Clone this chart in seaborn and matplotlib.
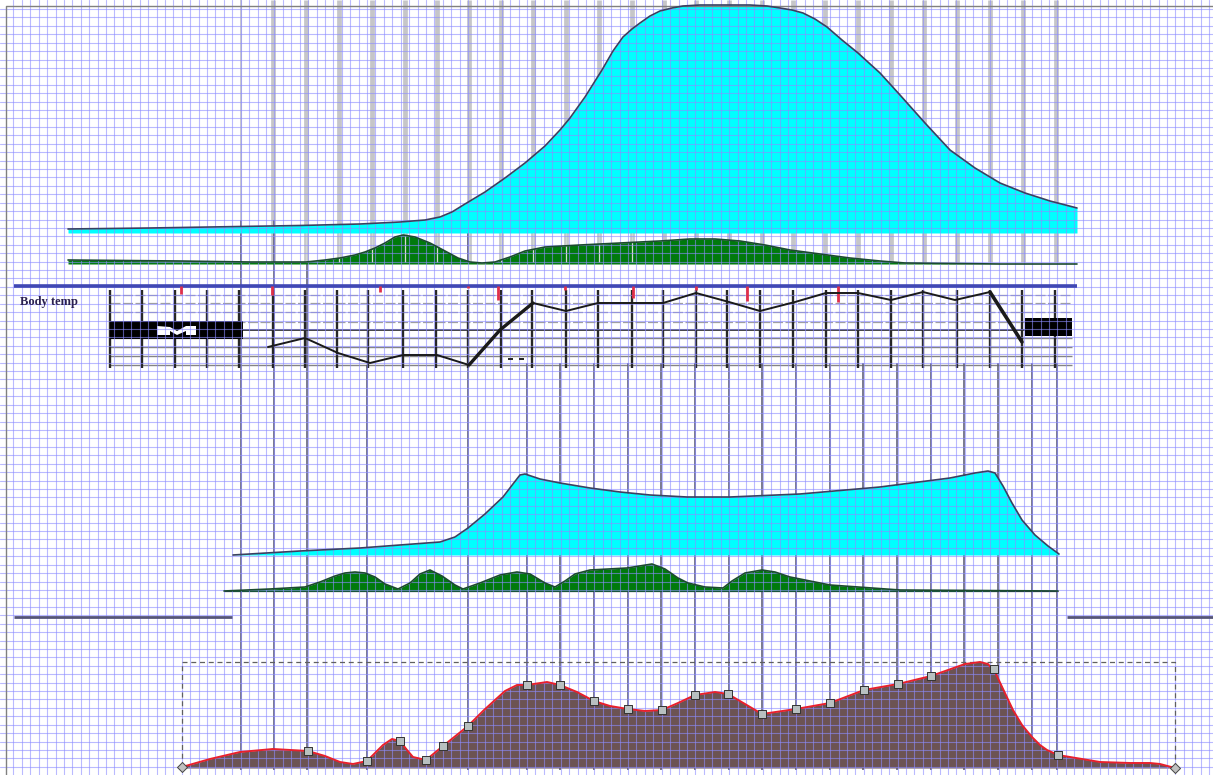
#!/usr/bin/env python

# Stacked traces (cyan / green areas, body temp strip, brown summary) on graph paper

import numpy as np
from matplotlib import pyplot as plt
import seaborn as sns

# Upper cyan area
top_cyan_x = [68, 150, 240, 300, 360, 400, 425, 440, 452, 465, 485, 505, 525, 545, 560, 570, 585, 602, 613, 623, 632, 640, 650, 660, 672, 683, 700, 725, 750, 767, 780, 792, 803, 815, 827, 842, 858, 880, 900, 925, 950, 975, 1000, 1025, 1050, 1077]
top_cyan_y = [229, 228, 226.5, 225.5, 224, 222, 220, 217, 212, 204, 192, 178, 163, 146, 130, 118, 97, 70, 51, 37, 29, 23, 16, 11, 8, 6, 5, 5, 5, 6, 8, 10, 13, 19, 27, 40, 53, 73, 95, 123, 150, 168, 183, 193, 201, 208]
top_cyan_base = 233

# Upper green area
top_green_x = [68, 180, 250, 306, 325, 340, 355, 365, 375, 385, 395, 403, 415, 430, 445, 458, 470, 482, 495, 510, 525, 545, 580, 620, 660, 690, 715, 740, 765, 790, 820, 850, 880, 905, 1000, 1077]
top_green_y = [260, 261, 262, 262, 260, 258, 255, 252, 248, 243, 237, 235, 237, 243, 251, 258, 262, 263, 262, 257, 251, 247, 245, 243, 241, 239, 239, 241, 245, 250, 254, 258, 261, 263, 264, 264]
top_green_base = 264

# Body temp strip
temp_x = [268, 305, 338, 370, 403, 437, 469, 500, 533, 566, 598, 632, 663, 696, 729, 760, 795, 826, 858, 891, 923, 955, 990, 1022]
temp_y = [347, 338, 353, 363, 355, 355, 365, 330, 303, 311, 303, 303, 303, 293, 302, 311, 302, 293, 293, 300, 292, 300, 292, 342]
temp_label = 'Body temp'
strip_ticks = [110, 142, 175, 207, 239, 273, 305, 337, 368, 403, 436, 468, 501, 532, 566, 598, 632, 663, 696, 727, 760, 793, 826, 858, 891, 923, 957, 990, 1022, 1055]
faint_rows = [295, 303, 312, 322]
strip_rows = [338, 347, 356, 365]
red_x = [181, 272, 380, 468, 498, 565, 633, 696, 747, 838]
red_y = [294, 295, 292, 288, 300, 290, 298, 290, 301, 302]

# Lower cyan area
low_cyan_x = [233, 300, 360, 400, 440, 455, 468, 485, 503, 513, 520, 525, 540, 560, 590, 620, 650, 687, 730, 800, 880, 950, 975, 988, 995, 1003, 1012, 1022, 1035, 1048, 1059]
low_cyan_y = [555, 551, 548, 545, 542, 537, 528, 514, 497, 484, 475, 474, 479, 483, 488, 492, 495, 497, 497, 494, 487, 478, 473, 471, 473, 486, 503, 520, 535, 546, 554]
low_cyan_base = 555

# Lower green area
low_green_x = [224, 270, 305, 320, 335, 345, 355, 365, 375, 385, 398, 410, 420, 430, 442, 455, 463, 480, 500, 517, 530, 545, 555, 565, 575, 590, 627, 652, 665, 678, 688, 705, 723, 732, 745, 762, 775, 790, 830, 900, 1058]
low_green_y = [591, 589, 587, 582, 576, 573, 572, 573, 577, 584, 589, 583, 574, 570, 576, 585, 589, 583, 575, 572, 574, 583, 587, 581, 574, 570, 568, 564, 569, 578, 583, 587, 588, 581, 573, 570, 572, 577, 585, 590, 591]
low_green_base = 591

# Brown summary area and its handles
brown_x = [182, 210, 240, 273, 308, 325, 340, 353, 367, 375, 383, 392, 400, 407, 413, 426, 443, 468, 483, 495, 505, 517, 527, 547, 560, 577, 594, 610, 628, 645, 662, 678, 695, 715, 728, 745, 762, 796, 830, 864, 898, 931, 965, 980, 988, 995, 1004, 1013, 1022, 1032, 1040, 1047, 1058, 1100, 1130, 1150, 1160, 1175]
brown_y = [767, 759, 752, 749, 751, 756, 762, 764, 761, 753, 745, 739, 741, 750, 757, 760, 746, 726, 711, 700, 691, 685, 685, 682, 685, 692, 701, 706, 709, 711, 710, 703, 695, 692, 694, 704, 714, 709, 703, 690, 684, 676, 664, 662, 664, 672, 691, 710, 725, 737, 745, 750, 755, 762, 763, 763, 764, 768]
brown_base = 768
handle_x = [308, 367, 400, 426, 443, 468, 527, 560, 594, 628, 662, 695, 728, 762, 796, 830, 864, 898, 931, 994, 1058]
handle_y = [751, 761, 741, 760, 746, 726, 685, 685, 701, 709, 710, 695, 694, 714, 709, 703, 690, 684, 676, 669, 755]
end_x = [182, 1175]
end_y = [767, 768]

# Vertical guide positions
grey_bars = [273, 306, 339, 372, 405, 437, 469, 501, 533, 566, 599, 632, 664, 696, 729, 762, 793, 825, 858, 891, 924, 957, 990, 1023, 1056]
long_guides = [241, 274, 307, 367, 468]
short_guides = [527, 560, 594, 628, 661, 695, 729, 762, 796, 830, 863, 897, 931, 964, 998, 1032, 1057]

# Colours
CYAN = '#00ffff'
GREEN = '#007a0c'
BROWN = '#6c5353'
GUIDE = '#62627c'
OUTLINE = '#3b4060'
BLUE = '#4048b4'

sns.set_theme(style='white')
plt.rcParams['font.family'] = ['Liberation Serif', 'DejaVu Serif']

fig = plt.figure(figsize=(12.13, 7.75), dpi=100)
ax = fig.add_axes([0, 0, 1, 1])
ax.set_xlim(0, 1213)
ax.set_ylim(775, 0)

# Graph paper drawn over the fills
ax.set_xticks(np.arange(13.4, 1213, 8.42))
ax.set_yticks(np.arange(9.0, 775, 8.42))
ax.tick_params(length=0, labelbottom=False, labelleft=False)
ax.grid(True, color='#8c8cff', lw=0.8, alpha=0.6)
ax.set_axisbelow(False)
sns.despine(ax=ax, left=True, bottom=True, top=True, right=True)

# Page frame
ax.plot([6, 6, 1213], [775, 5.5, 5.5], color='#808080', lw=1, zorder=3)


def area(x, y, base, fill, edge, lw=1.2):
    ax.fill_between(x, y, base, color=fill, lw=0, zorder=1.5)
    sns.lineplot(x=x, y=y, color=edge, lw=lw, sort=False, estimator=None, ax=ax, zorder=3)


# Guides sit under the areas
ax.vlines(grey_bars, 0, 262, color='#c6c6c8', lw=3.4, zorder=1)
ax.vlines(241, 0, 220, color='#c8c8d0', lw=1.4, zorder=1)
ax.vlines(long_guides[:2], 220, 770, color=GUIDE, lw=1.2, zorder=1.2)
ax.vlines(long_guides[2], 263, 770, color=GUIDE, lw=1.2, zorder=1.2)
ax.vlines(long_guides[3:], 365, 770, color=GUIDE, lw=1.2, zorder=1.2)
ax.vlines(468, 233, 262, color=GUIDE, lw=1.2, zorder=1.2)
ax.vlines(short_guides, 363, 770, color=GUIDE, lw=1.2, zorder=1.2)

area(top_cyan_x, top_cyan_y, top_cyan_base, CYAN, OUTLINE)
area(top_green_x, top_green_y, top_green_base, GREEN, '#1c4a30')
ax.vlines(grey_bars[1:12], 233, 262, color='#d4d8d4', lw=0.9, zorder=2)

# Body temp strip
ax.text(20, 302, temp_label, fontsize=9, fontweight='bold', color='#2a2050', va='center', zorder=4)
ax.hlines(285.5, 14, 1077, color=BLUE, lw=2.6, zorder=3)
ax.hlines(faint_rows, 110, 1072, color='#777777', lw=0.9, ls=(0, (8, 2)), zorder=1.8, alpha=0.7)
ax.hlines(strip_rows, 110, 1072, color='#666666', lw=1, zorder=1.8, alpha=0.8)
ax.hlines(330, 243, 1025, color='#333333', lw=1.3, zorder=1.8)
ax.vlines(strip_ticks, 290, 368, color='#262626', lw=1.7, zorder=1.9)
ax.vlines(red_x, 286, red_y, color='#e0304a', lw=2, zorder=3)
ax.fill_between([110, 243], 321, 339, color='black', lw=0, zorder=2.2)
ax.fill_between([1025, 1072], 318, 336, color='black', lw=0, zorder=2.2)
# white smudge left in the blacked out part of the scan
ax.fill([157, 170, 177, 186, 196, 196, 186, 186, 177, 170, 170, 157],
        [326, 327, 331, 326, 326, 335, 335, 331, 335, 331, 335, 335], color='white', lw=0, zorder=2.3)
sns.lineplot(x=temp_x, y=temp_y, color='#1a1a1a', lw=1.4, sort=False, estimator=None, ax=ax, zorder=3)
sns.lineplot(x=temp_x[6:9], y=temp_y[6:9], color='#1a1a1a', lw=2.4, sort=False, estimator=None, ax=ax, zorder=3)
sns.lineplot(x=temp_x[-2:], y=temp_y[-2:], color='#1a1a1a', lw=2.6, sort=False, estimator=None, ax=ax, zorder=3)
ax.hlines([359, 359], [508, 519], [513, 524], color='#222222', lw=1.4, zorder=3)

# Lower areas
area(low_cyan_x, low_cyan_y, low_cyan_base, CYAN, OUTLINE)
ax.hlines(590.5, 224, 1058, color='#2c2c60', lw=0.9, zorder=1.4)
area(low_green_x, low_green_y, low_green_base, GREEN, '#1c4a30')
ax.hlines([617, 617], [14, 1067], [232, 1213], color='#555578', lw=2, zorder=3)

# Brown summary with selection box and handles
ax.plot([182, 182, 1175, 1175], [767, 662, 662, 768], color='#606060', lw=0.9, ls=(0, (4, 3)), zorder=3)
area(brown_x, brown_y, brown_base, BROWN, '#e8202c', lw=1.4)
sns.scatterplot(x=handle_x, y=handle_y, marker='s', s=36, color='#b8c0c0', edgecolor='#333333', linewidth=0.7, ax=ax, zorder=4)
sns.scatterplot(x=end_x, y=end_y, marker='D', s=26, color='#c0c0c0', edgecolor='#444444', linewidth=0.7, ax=ax, zorder=4)

ax.set_xlim(0, 1213)
ax.set_ylim(775, 0)
fig.savefig('out.png', dpi=100)
